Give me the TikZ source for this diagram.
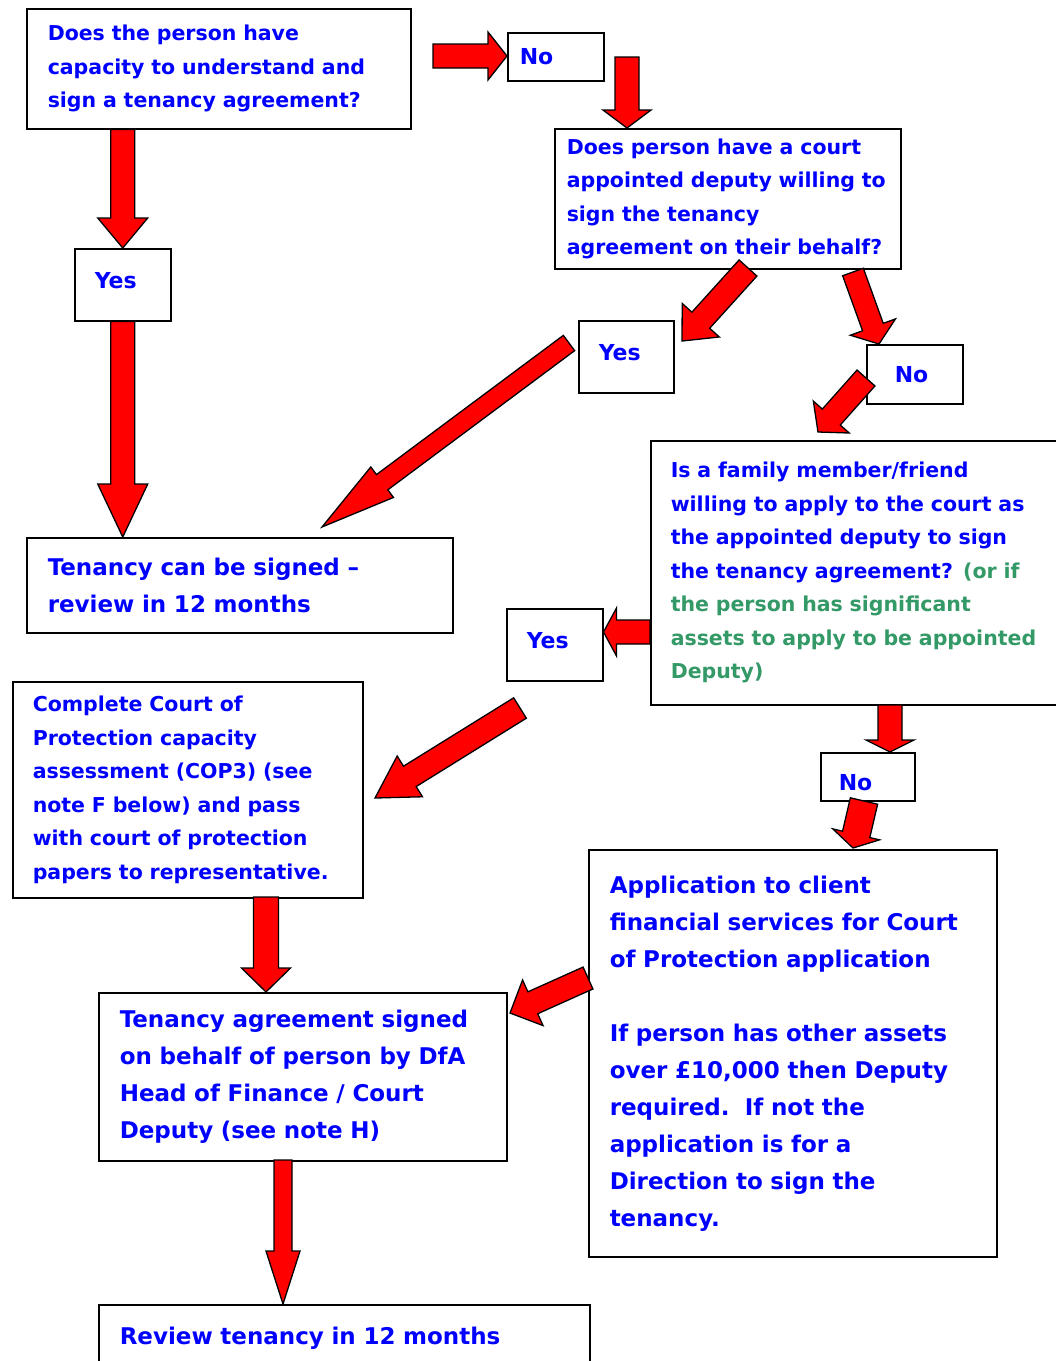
\documentclass[tikz,border=0pt]{standalone}
\usepackage{fontspec}
\setmainfont{DejaVu Sans}
\usepackage{tikz}
\usetikzlibrary{calc}
\usepackage{xcolor}

\definecolor{qblue}{RGB}{0,0,255}
\definecolor{notegreen}{RGB}{51,153,102}
\newcommand{\qfont}{\fontsize{20.5}{33.5}\selectfont\bfseries}
\newcommand{\bigqfont}{\fontsize{23}{37}\selectfont\bfseries}
\newcommand{\tagfont}{\fontsize{22}{26}\selectfont\bfseries}
% block arrow: shaft half width, head half width, head length, from, to
\newcommand{\blockarrow}[5]{%
  \path (#4) coordinate (batail) (#5) coordinate (batip);
  \path ($(batip)!#3!(batail)$) coordinate (bahead);
  \filldraw[redarrow] ($(batail)!#1!90:(batip)$) -- ($(bahead)!#1!90:(batip)$)
    -- ($(bahead)!#2!90:(batip)$) -- (batip) -- ($(bahead)!#2!-90:(batip)$)
    -- ($(bahead)!#1!-90:(batip)$) -- ($(batail)!#1!-90:(batip)$) -- cycle;}

\begin{document}
\begin{tikzpicture}[x=1pt, y=-1pt,
    box/.style={draw, line width=1.5pt, anchor=north west, align=left,
                inner xsep=20pt, text=qblue, font=\qfont},
    tag/.style={draw, line width=1.5pt, anchor=north west, align=left,
                inner xsep=20pt, text=qblue, font=\tagfont},
    redarrow/.style={fill=red, draw=black, line width=1.3pt}]
          \path[use as bounding box] (0,0) rectangle (1056,1361);
          \clip (0,0) rectangle (1056,1361);
          % Question 1: capacity
          \node[box, minimum width=384pt, minimum height=120pt, text width=342pt] (q1) at (26,8)
                {Does the person have\\ capacity to understand and\\ sign a tenancy agreement?};
          \node[tag, minimum width=96pt, minimum height=48pt, inner xsep=12pt, text width=72pt] (no1) at (507,32) {No};
          \node[tag, minimum width=96pt, minimum height=72pt, text width=56pt, text depth=8pt] (yes1) at (74,248) {Yes};
          \node[box, font=\bigqfont, minimum width=426pt, minimum height=95pt, inner xsep=21pt, text width=384pt] (t1) at (26,537)
                {Tenancy can be signed –\\ review in 12 months};
          % Question 2: court appointed deputy
          \node[box, minimum width=346pt, minimum height=140pt, inner xsep=12pt, text width=322pt] (q2) at (554,128)
                {Does person have a court\\ appointed deputy willing to\\ sign the tenancy\\ agreement on their behalf?};
          \node[tag, minimum width=95pt, minimum height=72pt, text width=55pt, text depth=8pt] (yes2) at (578,320) {Yes};
          \node[tag, minimum width=96pt, minimum height=59pt, inner xsep=28pt, text width=40pt] (no2) at (866,344) {No};
          % Question 3: family member / friend
          \node[box, minimum width=420pt, minimum height=264pt, text width=380pt] (q3) at (650,440)
                {Is a family member/friend\\ willing to apply to the court as\\ the appointed deputy to sign\\
                 the tenancy agreement? \textcolor{notegreen}{(or if}\\ \textcolor{notegreen}{the person has significant}\\
                 \textcolor{notegreen}{assets to apply to be appointed}\\ \textcolor{notegreen}{Deputy)}};
          \node[tag, minimum width=96pt, minimum height=72pt, text width=56pt, text depth=8pt] (yes3) at (506,608) {Yes};
          \node[tag, minimum width=94pt, minimum height=48pt, inner xsep=18pt, text width=58pt, text height=28pt] (no4) at (820,752) {No};
          % Court of Protection route
          \node[box, minimum width=350pt, minimum height=216pt, text width=310pt] (cop) at (12,681)
                {Complete Court of\\ Protection capacity\\ assessment (COP3) (see\\ note F below) and pass\\
                 with court of protection\\ papers to representative.};
          \node[box, font=\bigqfont, minimum width=408pt, minimum height=407pt, inner xsep=21pt, text width=366pt] (app) at (588,849)
                {Application to client\\ financial services for Court\\ of Protection application\\[37pt]
                 If person has other assets\\ over £10,000 then Deputy\\ required.\ \ If not the\\
                 application is for a\\ Direction to sign the\\ tenancy.};
          \node[box, font=\bigqfont, minimum width=408pt, minimum height=168pt, inner xsep=21pt, text width=366pt] (t2) at (98,992)
                {Tenancy agreement signed\\ on behalf of person by DfA\\ Head of Finance / Court\\ Deputy (see note H)};
          \node[box, font=\bigqfont, minimum width=491pt, minimum height=66pt, inner xsep=21pt, text width=449pt] (rev) at (98,1304)
                {Review tenancy in 12 months};
          % arrow ends
          \coordinate (q1out) at (433,56);
          \coordinate (no1out) at (627,57);
          \coordinate (q2yes) at (748,268);
          \coordinate (yes2in) at (682,341);
          \coordinate (q2no) at (853,272);
          \coordinate (no2in) at (879,344);
          \coordinate (no2out) at (866,378);
          \coordinate (q3in) at (818,432);
          \coordinate (yes2out) at (569,343);
          \coordinate (t1in) at (322,527);
          \coordinate (q3yes) at (650,632);
          \coordinate (yes3out) at (520,708);
          \coordinate (copin) at (375,798);
          \coordinate (q3no) at (890,705);
          \coordinate (no4out) at (864,801);
          \coordinate (appin) at (853,848);
          \coordinate (appout) at (588,978);
          \coordinate (t2in) at (510,1013);
          \coordinate (copout) at (266,897);
          \coordinate (t2out) at (283,1160);
          % arrows
          \blockarrow{12pt}{25pt}{30pt}{q1.south -| yes1.north}{yes1.north}
          \blockarrow{12pt}{25pt}{53pt}{yes1.south}{yes1.south |- t1.north}
          \blockarrow{12pt}{24pt}{19pt}{q1out}{q1out -| no1.west}
          \blockarrow{12pt}{24pt}{18pt}{no1out}{no1out |- q2.north}
          \blockarrow{12pt}{25pt}{28pt}{q2yes}{yes2in}
          \blockarrow{11pt}{24pt}{18pt}{q2no}{no2in}
          \blockarrow{12pt}{24pt}{20pt}{no2out}{q3in}
          \blockarrow{9.5pt}{19pt}{75pt}{yes2out}{t1in}
          \blockarrow{12pt}{24pt}{13pt}{q3yes}{q3yes -| yes3.east}
          \blockarrow{12pt}{24pt}{41pt}{yes3out}{copin}
          \blockarrow{12pt}{24pt}{12pt}{q3no}{q3no |- no4.north}
          \blockarrow{14pt}{24pt}{14pt}{no4out}{appin}
          \blockarrow{12pt}{25pt}{25pt}{appout}{t2in}
          \blockarrow{12.5pt}{24.5pt}{24pt}{copout}{copout |- t2.north}
          \blockarrow{9pt}{17pt}{53pt}{t2out}{t2out |- rev.north}
        \end{tikzpicture}
\end{document}
